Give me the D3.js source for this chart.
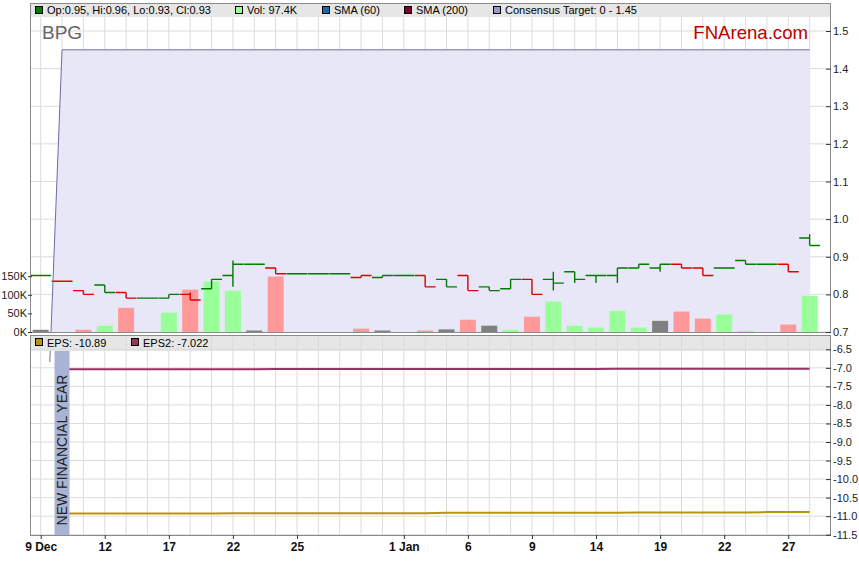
<!DOCTYPE html>
<html><head><meta charset="utf-8">
<script src="https://cdn.jsdelivr.net/npm/d3@7"></script>
<style>
body{margin:0;background:#fff}
svg{display:block}
text{font-family:"Liberation Sans",Arial,sans-serif}
</style>
</head><body>
<svg id="c" width="859" height="566"></svg>
<script>
// ---------- DATA ----------
const days = ["2025-12-09","2025-12-10","2025-12-11","2025-12-12","2025-12-15","2025-12-16","2025-12-17","2025-12-18","2025-12-19",
  "2025-12-22","2025-12-23","2025-12-24","2025-12-25","2025-12-26","2025-12-29","2025-12-30","2025-12-31","2026-01-01","2026-01-02",
  "2026-01-05","2026-01-06","2026-01-07","2026-01-08","2026-01-09","2026-01-12","2026-01-13","2026-01-14","2026-01-15","2026-01-16",
  "2026-01-19","2026-01-20","2026-01-21","2026-01-22","2026-01-23","2026-01-26","2026-01-27","2026-01-28"];
const openP  = [0.85,0.835,0.81,0.825,0.805,0.79,0.79,0.80,0.815,0.85,0.88,0.87,0.855,0.855,0.855,0.845,0.845,0.85,0.85,0.84,0.85,0.82,0.815,0.84,0.84,0.86,0.85,0.85,0.87,0.87,0.88,0.87,0.87,0.89,0.88,0.88,0.95];
const highP  = [0.85,0.835,0.81,0.825,0.805,0.79,0.80,0.805,0.84,0.89,0.88,0.87,0.855,0.855,0.855,0.85,0.85,0.85,0.85,0.84,0.85,0.82,0.84,0.84,0.86,0.86,0.85,0.87,0.88,0.88,0.88,0.87,0.87,0.89,0.88,0.88,0.96];
const lowP   = [0.85,0.835,0.80,0.805,0.79,0.79,0.79,0.785,0.815,0.82,0.88,0.855,0.855,0.855,0.855,0.845,0.845,0.85,0.82,0.82,0.81,0.81,0.815,0.80,0.81,0.83,0.83,0.83,0.87,0.86,0.87,0.85,0.87,0.88,0.88,0.86,0.93];
const closeP = [0.85,0.835,0.80,0.805,0.79,0.79,0.80,0.785,0.84,0.88,0.88,0.855,0.855,0.855,0.855,0.85,0.85,0.85,0.82,0.82,0.81,0.81,0.84,0.80,0.83,0.84,0.85,0.87,0.88,0.88,0.87,0.85,0.87,0.88,0.88,0.86,0.93];
const volK   = [6,0,6,17,65,0,52,114,136,111,4,149,0,0,0,9,4,0,4,7,33,17,6,41,82,17,12,57,12,30,55,36,47,3,0,20,97.4];
const consensusIdx = [0,1,36];
const consensusVal = [0,1.45,1.45];
const epsVal  = [-10.93,-10.93,-10.93,-10.93,-10.93,-10.93,-10.93,-10.93,-10.92,-10.92,-10.92,-10.92,-10.92,-10.92,-10.92,-10.92,-10.92,-10.92,-10.91,-10.91,-10.91,-10.91,-10.91,-10.91,-10.91,-10.91,-10.91,-10.90,-10.90,-10.90,-10.90,-10.90,-10.90,-10.89,-10.89,-10.89];
const eps2Val = [-7.04,-7.04,-7.04,-7.04,-7.04,-7.04,-7.04,-7.04,-7.04,-7.04,-7.03,-7.03,-7.03,-7.03,-7.03,-7.03,-7.03,-7.03,-7.03,-7.03,-7.03,-7.03,-7.03,-7.03,-7.03,-7.03,-7.022,-7.022,-7.022,-7.022,-7.022,-7.022,-7.022,-7.022,-7.022,-7.022];
const epsStart = 1; // eps series begins at day index 1
const nfyIdx = 1;   // new financial year marker
const priceTicks = [0.7,0.8,0.9,1.0,1.1,1.2,1.3,1.4,1.5];
const volTicks = [0,50000,100000,150000];
const epsTicks = [-6.5,-7,-7.5,-8,-8.5,-9,-9.5,-10,-10.5,-11,-11.5];
const xTickIdx = [0,3,6,9,12,17,20,23,26,29,32,35];
const xTickLabels = ["9 Dec","12","17","22","25","1 Jan","6","9","14","19","22","27"];
const legendTop = [
  {label:"Op:0.95, Hi:0.96, Lo:0.93, Cl:0.93", color:"#008000", x:35},
  {label:"Vol: 97.4K", color:"#99ff99", x:235},
  {label:"SMA (60)", color:"#1d6aa5", x:322},
  {label:"SMA (200)", color:"#800027", x:404},
  {label:"Consensus Target: 0 - 1.45", color:"#9a9ac8", x:493}];
const legendBot = [
  {label:"EPS: -10.89", color:"#b8960b", x:35},
  {label:"EPS2: -7.022", color:"#993366", x:131}];

// ---------- LAYOUT ----------
const svg = d3.select("#c");
const L=30, R=831, T1=3, B1=332, T2=335, B2=535;
const N = days.length;
const idx = d3.range(N);
const x  = d3.scaleLinear().domain([-0.5,37]).range([L,R]);
const yP = d3.scaleLinear().domain([0.7,1.5]).range([332,31]);
const yV = d3.scaleLinear().domain([0,150000]).range([332,276.2]);
const yE = d3.scaleLinear().domain([-11.5,-6.5]).range([534.7,349.3]);
const gridC = "#dcdcdc";

const defs = svg.append("defs");
defs.append("clipPath").attr("id","clipTop").append("rect").attr("x",L).attr("y",17).attr("width",R-L).attr("height",B1-17);
const cl = defs.append("clipPath").attr("id","clipLine");
cl.append("rect").attr("x",L).attr("y",17).attr("width",R-L).attr("height",B1-17);
cl.append("rect").attr("x",L).attr("y",351).attr("width",R-L).attr("height",11);

// backgrounds
svg.append("rect").attr("x",L).attr("y",T1).attr("width",R-L).attr("height",B1-T1).attr("fill","#fff");
svg.append("rect").attr("x",L).attr("y",T2).attr("width",R-L).attr("height",B2-T2).attr("fill","#fff");

// top grid
const gTop = svg.append("g");
gTop.selectAll("line.v").data(idx).join("line")
  .attr("x1",d=>x(d)).attr("x2",d=>x(d)).attr("y1",17).attr("y2",B1).attr("stroke",gridC);
gTop.selectAll("line.h").data(priceTicks).join("line")
  .attr("x1",L).attr("x2",R).attr("y1",d=>yP(d)).attr("y2",d=>yP(d)).attr("stroke",gridC);

// bottom legend bar + grid
svg.append("rect").attr("x",L).attr("y",T2).attr("width",R-L).attr("height",16).attr("fill","#e6e6e6");
const gBot = svg.append("g");
gBot.selectAll("line.v").data(idx).join("line")
  .attr("x1",d=>x(d)).attr("x2",d=>x(d)).attr("y1",T2).attr("y2",B2).attr("stroke",gridC);
gBot.selectAll("line.h").data(epsTicks).join("line")
  .attr("x1",L).attr("x2",R).attr("y1",d=>yE(d)).attr("y2",d=>yE(d)).attr("stroke",gridC);

// consensus area
const cons = consensusIdx.map((d,i)=>[d,consensusVal[i]]);
svg.append("path").attr("clip-path","url(#clipTop)")
  .attr("d", d3.area().x(d=>x(d[0])).y0(yP(0)).y1(d=>yP(d[1]))(cons))
  .attr("fill","#e7e7f7");

// volume bars
const bw = x(0.375)-x(-0.375);
svg.append("g").attr("clip-path","url(#clipTop)").selectAll("rect").data(idx).join("rect")
  .attr("x",i=>x(i)-bw/2).attr("width",bw)
  .attr("y",i=>yV(volK[i]*1000)).attr("height",i=>yV(0)-yV(volK[i]*1000))
  .attr("fill",i=> i===0 ? "#808080" : closeP[i]>closeP[i-1] ? "#99ff99" : closeP[i]<closeP[i-1] ? "#ff9999" : "#808080");

// OHLC
const hw = x(0.49)-x(0);
svg.append("g").attr("clip-path","url(#clipTop)").selectAll("path").data(idx).join("path")
  .attr("d",i=>`M${x(i)-hw},${yP(openP[i])}H${x(i)}M${x(i)},${yP(highP[i])}V${yP(lowP[i])}M${x(i)},${yP(closeP[i])}H${x(i)+hw}`)
  .attr("fill","none").attr("stroke-width",1.4)
  .attr("stroke",i=> (i===0 || closeP[i]>=closeP[i-1]) ? "#007a00" : "#dd0000");

// consensus line
svg.append("path").attr("clip-path","url(#clipLine)")
  .attr("d", d3.line().x(d=>x(d[0])).y(d=>yP(d[1]))(cons))
  .attr("fill","none").attr("stroke","#6c6ca6").attr("stroke-width",1);

// top legend bar
svg.append("rect").attr("x",L).attr("y",T1).attr("width",R-L).attr("height",14).attr("fill","#e6e6e6");
legendTop.forEach(d=>{
  svg.append("rect").attr("x",d.x+0.5).attr("y",6.5).attr("width",7).attr("height",7).attr("fill",d.color).attr("stroke","#000");
  svg.append("text").attr("x",d.x+12).attr("y",14).attr("font-size",11).attr("fill","#000").text(d.label);
});
legendBot.forEach(d=>{
  svg.append("rect").attr("x",d.x+0.5).attr("y",338.5).attr("width",7).attr("height",7).attr("fill",d.color).attr("stroke","#000");
  svg.append("text").attr("x",d.x+12).attr("y",347).attr("font-size",11).attr("fill","#000").text(d.label);
});

svg.append("text").attr("x",42).attr("y",39).attr("font-size",19).attr("fill","#666").text("BPG");
svg.append("text").attr("x",808).attr("y",39).attr("font-size",18.6).attr("fill","#c00000").attr("text-anchor","end").text("FNArena.com");

// EPS lines
const line = d3.line().x(d=>x(d[0])).y(d=>yE(d[1]));
svg.append("path").attr("d",line(eps2Val.map((v,i)=>[i+epsStart,v]))).attr("fill","none").attr("stroke","#993366").attr("stroke-width",2);
svg.append("path").attr("d",line(epsVal.map((v,i)=>[i+epsStart,v]))).attr("fill","none").attr("stroke","#b8960b").attr("stroke-width",2);

// new financial year band
const bandW = x(0.35)-x(0);
svg.append("rect").attr("x",x(nfyIdx)-bandW).attr("y",351).attr("width",bandW*2).attr("height",B2-351).attr("fill","#a9b3d3");
svg.append("text").attr("transform",`translate(${x(nfyIdx)+5},450) rotate(-90)`)
  .attr("text-anchor","middle").attr("font-size",14).attr("fill","#222").text("NEW FINANCIAL YEAR");

// borders
svg.append("rect").attr("x",L+0.5).attr("y",T1+0.5).attr("width",R-L-1).attr("height",B1-T1).attr("fill","none").attr("stroke","#8a8a8a");
svg.append("rect").attr("x",L+0.5).attr("y",T2+0.5).attr("width",R-L-1).attr("height",B2-T2).attr("fill","none").attr("stroke","#8a8a8a");

// axes
function styleAxis(g){
  g.select(".domain").remove();
  g.selectAll(".tick line").attr("stroke","#333");
  g.selectAll(".tick text").attr("fill","#222").attr("font-size",11).attr("font-family","Liberation Sans, Arial, sans-serif");
}
svg.append("g").attr("transform",`translate(${R},0)`)
  .call(d3.axisRight(yP).tickValues(priceTicks).tickFormat(d=>d.toFixed(1)).tickSize(-5).tickPadding(2)).call(styleAxis);
svg.append("g").attr("transform",`translate(${R},0)`)
  .call(d3.axisRight(yE).tickValues(epsTicks).tickFormat(d=>d.toFixed(1)).tickSize(-5).tickPadding(2)).call(styleAxis);
svg.append("g").attr("transform",`translate(32,0)`)
  .call(d3.axisLeft(yV).tickValues(volTicks).tickFormat(d=>(d/1000)+"K").tickSize(4).tickPadding(1)).call(styleAxis);
const xa = svg.append("g").attr("transform",`translate(0,${B2})`)
  .call(d3.axisBottom(x).tickValues(xTickIdx).tickFormat((d,i)=>xTickLabels[i]).tickSize(4).tickPadding(3)).call(styleAxis);
xa.selectAll(".tick text").attr("font-size",12).attr("font-weight","bold")
  .attr("font-family","'Liberation Sans Narrow','DejaVu Sans Condensed',sans-serif").attr("fill","#111");
</script>
</body></html>
